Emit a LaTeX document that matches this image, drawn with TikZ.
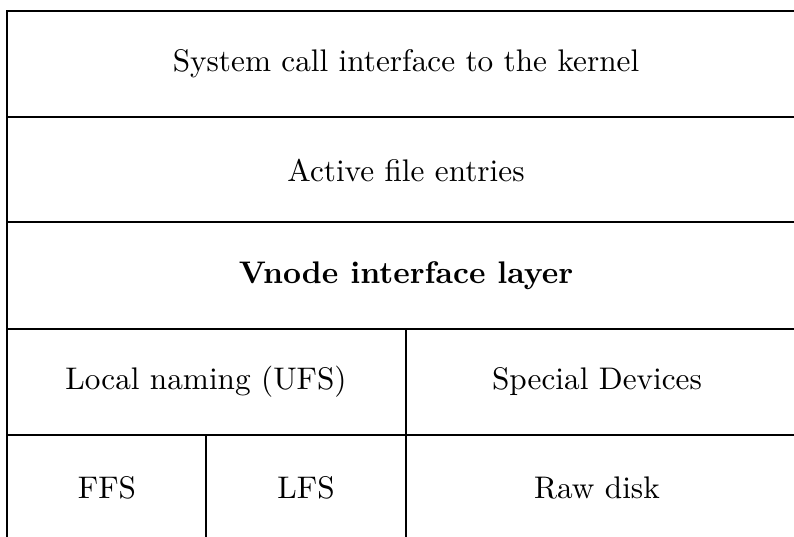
\documentclass[tikz,border=0pt]{standalone}
\usepackage{amsmath,amssymb}
\usepackage{xcolor}
\usepackage{tikz}

\begin{document}
\begin{tikzpicture}[x=0.32pt, y=-0.32pt, line width=0.85pt]
  \useasboundingbox (0,0) rectangle (794,537);
  % layer boundaries
  \draw (794,11) -- (7,11) -- (7,537);
  \draw (7,117) -- (794,117);
  \draw (7,222) -- (794,222);
  \draw (7,329) -- (794,329);
  \draw (7,435) -- (794,435);
  \draw (406,329) -- (406,537);
  \draw (206,435) -- (206,537);
  % layer labels
  \node (syscall) at (406,64) {System call interface to the kernel};
  \node (active) at (406,170) {Active file entries};
  \node (vnode) at (406,276) {\textbf{Vnode interface layer}};
  \node (ufs) at (206,382) {Local naming (UFS)};
  \node (special) at (597,382) {Special Devices};
  \node (ffs) at (107,488) {FFS};
  \node (lfs) at (306,488) {LFS};
  \node (raw) at (597,488) {Raw disk};
\end{tikzpicture}
\end{document}
